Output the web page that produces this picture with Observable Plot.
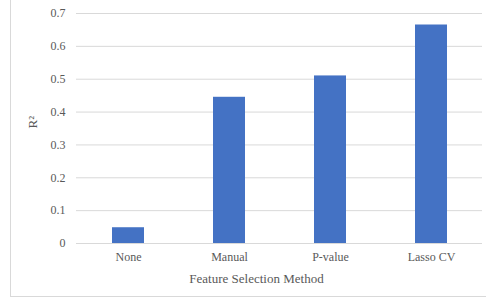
<!DOCTYPE html>
<html>
<head>
<meta charset="utf-8">
<script src="https://cdn.jsdelivr.net/npm/d3@7"></script>
<script src="https://cdn.jsdelivr.net/npm/@observablehq/plot@0.6"></script>
<style>
  html, body { margin: 0; padding: 0; background: #fff; }
  #wrap { position: relative; width: 486px; height: 300px; overflow: hidden; }
  #frame { position: absolute; left: 10px; top: -2px; width: 480px; height: 299px;
           border-left: 1px solid #d9d9d9; border-bottom: 1px solid #d9d9d9; box-sizing: border-box; }
  #chart { position: absolute; left: 0; top: 0; }
  svg text { font-family: "Liberation Serif", "Times New Roman", serif; }
</style>
</head>
<body>
<div id="wrap"><div id="frame"></div><div id="chart"></div></div>
<script>
const methods = ["None", "Manual", "P-value", "Lasso CV"];
const r2 = [0.048, 0.445, 0.510, 0.665];
const yTicks = [0, 0.1, 0.2, 0.3, 0.4, 0.5, 0.6, 0.7];
const yTickLabels = ["0", "0.1", "0.2", "0.3", "0.4", "0.5", "0.6", "0.7"];
const xTitle = "Feature Selection Method";
const yTitle = "R\u00B2";

const data = methods.map((m, i) => ({method: m, value: r2[i]}));

const chart = Plot.plot({
  width: 486,
  height: 300,
  marginLeft: 76,
  marginRight: 4,
  marginTop: 13,
  marginBottom: 57,
  style: {background: "transparent", color: "#595959", fontSize: "12px", fontFamily: "Liberation Serif, serif"},
  x: {domain: methods, paddingInner: 0.684, paddingOuter: 0.346, label: null},
  y: {domain: [0, 0.7], label: null},
  marks: [
    Plot.gridY(yTicks, {stroke: "#d9d9d9", strokeOpacity: 1, strokeWidth: 1}),
    Plot.barY(data, {x: "method", y: "value", fill: "#4472C4"}),
    Plot.axisY(yTicks, {tickSize: 0, tickPadding: 11, tickFormat: (d, i) => yTickLabels[i], fill: "#595959", fontSize: 12}),
    Plot.axisX({tickSize: 0, tickPadding: 9, fill: "#595959", fontSize: 12, label: null}),
    Plot.text([xTitle], {frameAnchor: "bottom", dx: -23, dy: 35, fill: "#595959", fontSize: 13, lineAnchor: "middle"}),
    Plot.text([yTitle], {frameAnchor: "left", dx: -44, rotate: -90, fill: "#595959", fontSize: 13, lineAnchor: "middle"})
  ]
});
document.getElementById("chart").appendChild(chart);
</script>
</body>
</html>
